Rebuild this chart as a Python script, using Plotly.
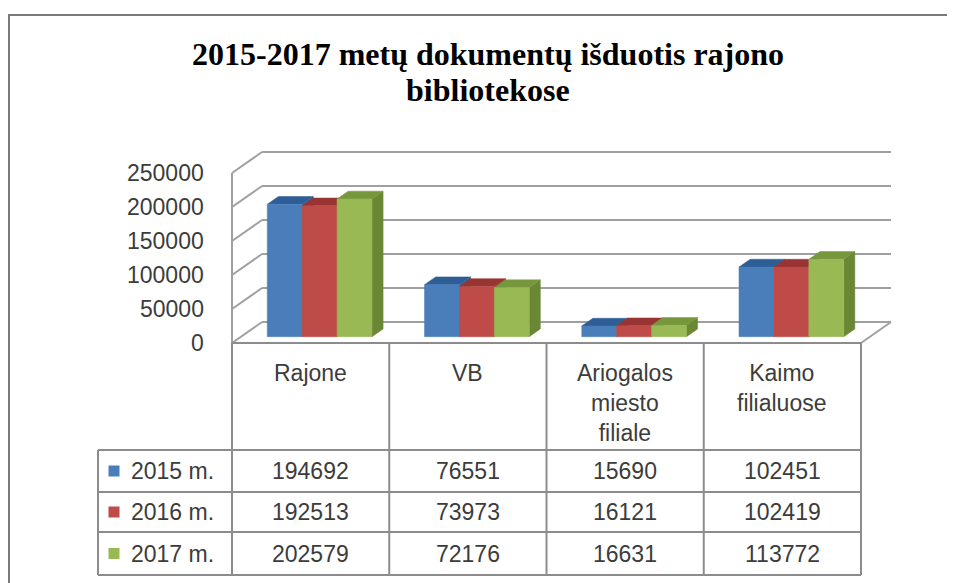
import plotly.graph_objects as go

# ---------------- data ----------------
categories = ["Rajone", "VB", "Ariogalos<br>miesto<br>filiale", "Kaimo<br>filialuose"]
series_names = ["2015 m.", "2016 m.", "2017 m."]
values_2015 = [194692, 76551, 15690, 102451]
values_2016 = [192513, 73973, 16121, 102419]
values_2017 = [202579, 72176, 16631, 113772]
y_ticks = [0, 50000, 100000, 150000, 200000, 250000]
title_lines = ["2015-2017 metų dokumentų išduotis rajono", "bibliotekose"]

series_values = [values_2015, values_2016, values_2017]

# ---------------- style / geometry ----------------
OFF = 8                # page body margin in the browser
W, H = 955 - OFF, 583 - OFF
FRONT_COLORS = ["#4A7EBB", "#BE4B48", "#98B954"]
TOP_COLORS = ["#2F5E96", "#983532", "#77973D"]
SIDE_COLORS = ["#35608F", "#8E3330", "#6A8834"]
GRID = "#a0a0a0"
TABLE_LINE = "#8c8c8c"
TEXT = "#3c3c3c"
FONT = "Liberation Sans"

X0_PX = 232.0 - OFF    # pixel of category-axis start
PX_PER_CAT = 157.25    # pixels per category column
Y0_PX = 343.0 - OFF    # pixel of value 0 on front plane
VMAX = y_ticks[-1]
PX_PER_V = 170.0 / VMAX
DEPTH_DX = 30.0        # px right from front to back wall
DEPTH_DY = 21.0        # px up from front to back wall
BAR_D0, BAR_D1 = 0.30, 0.67
BAR_W = 0.222          # bar width in category units


def X(px):
    """reference-image pixel x -> axis x"""
    return (px - OFF - X0_PX) / PX_PER_CAT


def V(py):
    """reference-image pixel y -> axis value"""
    return (Y0_PX - (py - OFF)) / PX_PER_V


def P(x, v, d):
    """3D point (category x, value v, depth d in 0..1) to axis coordinates."""
    return x + d * DEPTH_DX / PX_PER_CAT, v + d * DEPTH_DY / PX_PER_V


fig = go.Figure()

# ---------------- walls / gridlines ----------------
n_cat = len(categories)
gx, gy = [], []
for t in y_ticks:
    a = P(0, t, 1); b = P(n_cat, t, 1)
    gx += [a[0], b[0], None]; gy += [a[1], b[1], None]
    a = P(0, t, 0); b = P(0, t, 1)
    gx += [a[0], b[0], None]; gy += [a[1], b[1], None]
a = P(n_cat, 0, 0); b = P(n_cat, 0, 1)
gx += [a[0], b[0], None]; gy += [a[1], b[1], None]
a = P(0, 0, 0); b = P(0, VMAX, 0)
gx += [a[0], b[0], None]; gy += [a[1], b[1], None]
fig.add_trace(go.Scatter(x=gx, y=gy, mode="lines", line=dict(color=GRID, width=2),
                         hoverinfo="skip", showlegend=False))


def poly(pts, color):
    xs = [p[0] for p in pts] + [pts[0][0]]
    ys = [p[1] for p in pts] + [pts[0][1]]
    fig.add_trace(go.Scatter(x=xs, y=ys, mode="lines", fill="toself", fillcolor=color,
                             line=dict(color=color, width=0.5), hoverinfo="skip",
                             showlegend=False))


# ---------------- 3D bars ----------------
n_ser = len(series_values)
for i in range(n_cat):
    for j in range(n_ser):
        v = series_values[j][i]
        left = i + 0.5 + (j - n_ser / 2) * BAR_W
        right = left + BAR_W
        poly([P(right, 0, BAR_D0), P(right, v, BAR_D0), P(right, v, BAR_D1), P(right, 0, BAR_D1)],
             SIDE_COLORS[j])
        poly([P(left, v, BAR_D0), P(right, v, BAR_D0), P(right, v, BAR_D1), P(left, v, BAR_D1)],
             TOP_COLORS[j])
        poly([P(left, 0, BAR_D0), P(right, 0, BAR_D0), P(right, v, BAR_D0), P(left, v, BAR_D0)],
             FRONT_COLORS[j])

# ---------------- y tick labels ----------------
annotations = []
for t in y_ticks:
    annotations.append(dict(x=X(206), y=t, xref="x", yref="y", text=str(t), showarrow=False,
                            xanchor="right", yanchor="middle",
                            font=dict(family=FONT, size=23, color=TEXT)))

# ---------------- data table ----------------
row_px = [343, 450, 492, 532, 575]
left_px = 98
shapes = []
line_style = dict(color=TABLE_LINE, width=2)
shapes.append(dict(type="line", xref="x", yref="y", x0=0, x1=n_cat, y0=V(row_px[0]), y1=V(row_px[0]),
                   line=line_style))
for r in row_px[1:]:
    shapes.append(dict(type="line", xref="x", yref="y", x0=X(left_px), x1=n_cat, y0=V(r), y1=V(r),
                       line=line_style))
for c in range(n_cat + 1):
    shapes.append(dict(type="line", xref="x", yref="y", x0=c, x1=c, y0=V(row_px[0]), y1=V(row_px[-1]),
                       line=line_style))
shapes.append(dict(type="line", xref="x", yref="y", x0=X(left_px), x1=X(left_px),
                   y0=V(row_px[1]), y1=V(row_px[-1]), line=line_style))

for i, cat in enumerate(categories):
    annotations.append(dict(x=i + 0.5, y=V(358), xref="x", yref="y", text=cat, showarrow=False,
                            xanchor="center", yanchor="top", align="center",
                            font=dict(family=FONT, size=23, color=TEXT)))

for j, name in enumerate(series_names):
    yc = V((row_px[j + 1] + row_px[j + 2]) / 2)
    annotations.append(dict(x=X(129), y=yc, xref="x", yref="y", text=name, showarrow=False,
                            xanchor="left", yanchor="middle",
                            font=dict(family=FONT, size=23, color=TEXT)))
    for i in range(n_cat):
        annotations.append(dict(x=i + 0.5, y=yc, xref="x", yref="y",
                                text=str(series_values[j][i]), showarrow=False,
                                xanchor="center", yanchor="middle",
                                font=dict(family=FONT, size=23, color=TEXT)))

key_y = [V((row_px[j + 1] + row_px[j + 2]) / 2) for j in range(n_ser)]
fig.add_trace(go.Scatter(x=[X(114)] * n_ser, y=key_y, mode="markers",
                         marker=dict(symbol="square", size=11, color=FRONT_COLORS,
                                     line=dict(width=0)),
                         hoverinfo="skip", showlegend=False))

# ---------------- title ----------------
annotations.append(dict(x=X(487.5), y=V(74), xref="x", yref="y", text="<b>%s</b>" % title_lines[0],
                        showarrow=False, xanchor="center", yanchor="bottom",
                        font=dict(family="Liberation Serif", size=32, color="#000000")))
annotations.append(dict(x=X(487.5), y=V(110), xref="x", yref="y", text="<b>%s</b>" % title_lines[1],
                        showarrow=False, xanchor="center", yanchor="bottom",
                        font=dict(family="Liberation Serif", size=32, color="#000000")))

# outer frame
shapes.append(dict(type="rect", xref="x", yref="y", x0=X(9), x1=X(1000), y0=V(700), y1=V(15),
                   line=dict(color="#7a7a7a", width=2), layer="above"))

fig.update_layout(
    width=W, height=H,
    margin=dict(l=0, r=0, t=0, b=0),
    paper_bgcolor="white", plot_bgcolor="white",
    xaxis=dict(range=[X(OFF), X(OFF + W)], visible=False, fixedrange=True),
    yaxis=dict(range=[V(OFF + H), V(OFF)], visible=False, fixedrange=True),
    shapes=shapes, annotations=annotations, showlegend=False,
)

fig.write_html("out.html")
